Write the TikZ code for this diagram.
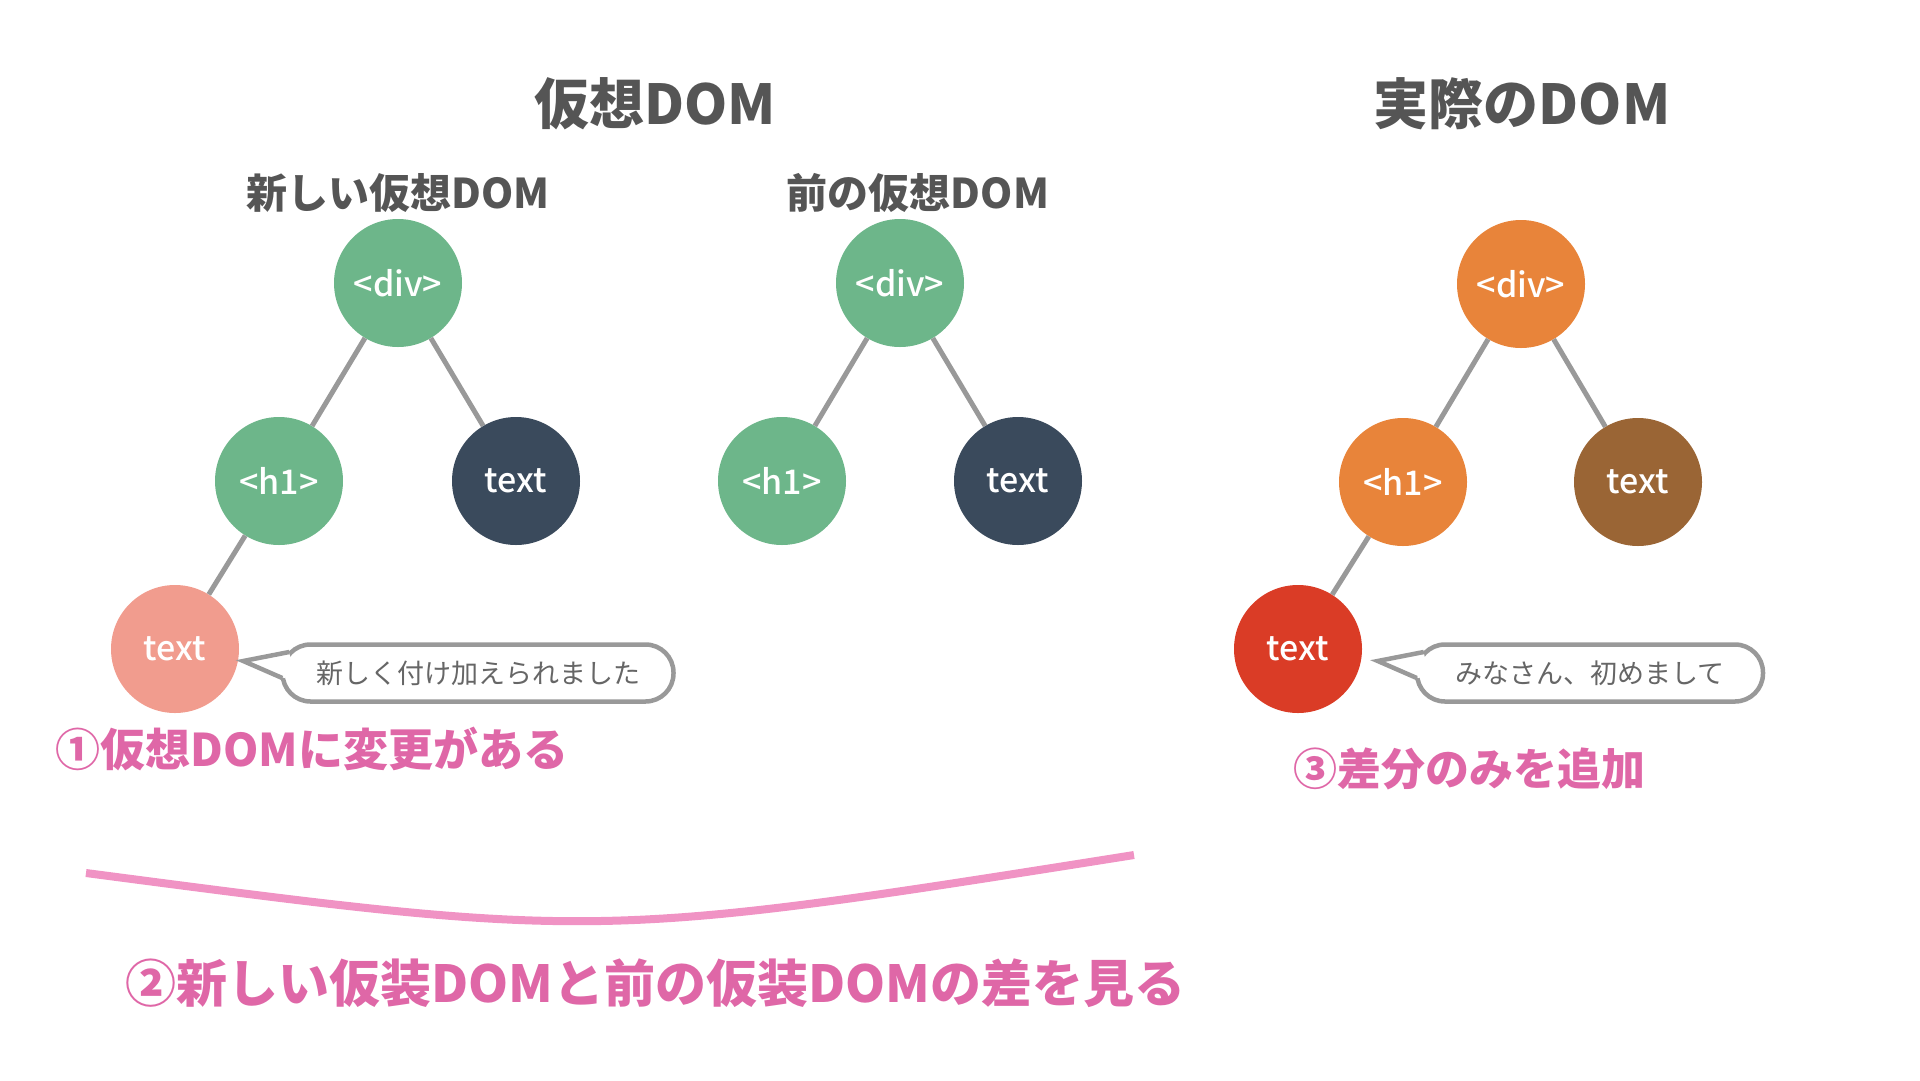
\documentclass[tikz,border=0pt]{standalone}
\usepackage{fontspec}
\setmainfont{Noto Sans CJK JP}
\newfontfamily\jpmedium{Noto Sans CJK JP}[UprightFont=* Medium]
\usetikzlibrary{calc}
\definecolor{vgreen}{HTML}{6DB68A}
\definecolor{vnavy}{HTML}{3A4A5C}
\definecolor{vsalmon}{HTML}{F19C8E}
\definecolor{rorange}{HTML}{E8843A}
\definecolor{rbrown}{HTML}{9A6535}
\definecolor{rred}{HTML}{DA3C26}
\definecolor{lblpink}{HTML}{DF67A7}
\definecolor{arcpink}{HTML}{F093C4}
\definecolor{titlegray}{HTML}{555555}
\definecolor{linegray}{HTML}{999999}

\begin{document}
\begin{tikzpicture}[x=1pt, y=-1pt,
  title/.style={font=\bfseries\fontsize{55}{62}\selectfont, text=titlegray},
  subtitle/.style={font=\bfseries\fontsize{41}{48}\selectfont, text=titlegray},
  vnode/.style={circle, minimum size=128pt, inner sep=0pt, text=white,
    font=\jpmedium\fontsize{34}{40}\selectfont},
  edge/.style={linegray, line width=5pt},
  bubble/.style={draw=linegray, line width=4.5pt, fill=white, rounded corners=28pt,
    minimum height=57pt, inner sep=0pt, text=titlegray!90,
    font=\fontsize{27}{32}\selectfont},
  tailline/.style={linegray, line width=4.5pt, line join=miter},
  steplabel/.style={anchor=west, text=lblpink, font=\bfseries\fontsize{45}{52}\selectfont}]
  \useasboundingbox (0,0) rectangle (1920,1080);

  % titles
  \node[title] (tvirt) at (655,104) {仮想DOM};
  \node[title] (treal) at (1522,104) {実際のDOM};
  \node[subtitle] (tnew) at (398,193) {新しい仮想DOM};
  \node[subtitle] (tprev) at (918,193) {前の仮想DOM};

  % new virtual DOM
  \node[vnode, fill=vgreen] (ndiv) at (398,283) {<div>};
  \node[vnode, fill=vgreen] (nh1) at (279,481) {<h1>};
  \node[vnode, fill=vnavy] (ntext) at (516,481) {text};
  \node[vnode, fill=vsalmon] (nadd) at (175,649) {text};
  \draw[edge] (ndiv) -- (nh1);
  \draw[edge] (ndiv) -- (ntext);
  \draw[edge] (nh1) -- (nadd);

  % previous virtual DOM
  \node[vnode, fill=vgreen] (pdiv) at (900,283) {<div>};
  \node[vnode, fill=vgreen] (ph1) at (782,481) {<h1>};
  \node[vnode, fill=vnavy] (ptext) at (1018,481) {text};
  \draw[edge] (pdiv) -- (ph1);
  \draw[edge] (pdiv) -- (ptext);

  % real DOM
  \node[vnode, fill=rorange] (rdiv) at (1521,284) {<div>};
  \node[vnode, fill=rorange] (rh1) at (1403,482) {<h1>};
  \node[vnode, fill=rbrown] (rtext) at (1638,482) {text};
  \node[vnode, fill=rred] (radd) at (1298,649) {text};
  \draw[edge] (rdiv) -- (rh1);
  \draw[edge] (rdiv) -- (rtext);
  \draw[edge] (rh1) -- (radd);

  % speech bubbles
  \node[bubble, minimum width=391pt] (bnew) at (478,673) {新しく付け加えられました};
  \coordinate (tipnew) at ($(bnew.west)+(-37,-12)$);
  \fill[white] ($(bnew.west)+(9,-20)$) -- (tipnew) -- ($(bnew.west)+(4,5)$) -- ($(bnew.west)+(14,0)$) -- cycle;
  \draw[tailline] ($(bnew.west)+(9,-21)$) -- (tipnew) -- ($(bnew.west)+(2,5)$);

  \node[bubble, minimum width=346pt] (breal) at (1590,673) {みなさん、初めまして};
  \coordinate (tipreal) at ($(breal.west)+(-37,-12)$);
  \fill[white] ($(breal.west)+(9,-20)$) -- (tipreal) -- ($(breal.west)+(4,5)$) -- ($(breal.west)+(14,0)$) -- cycle;
  \draw[tailline] ($(breal.west)+(9,-21)$) -- (tipreal) -- ($(breal.west)+(2,5)$);

  % steps
  \node[steplabel] (step1) at (52,749) {①仮想DOMに変更がある};
  \node[steplabel, font=\bfseries\fontsize{44}{50}\selectfont] (step3) at (1290,769) {③差分のみを追加};
  \coordinate (arcl) at (86,873);
  \coordinate (arcr) at (1134,855);
  \draw[arcpink, line width=8pt] (arcl) .. controls (597,940) .. (arcr);
  \node[steplabel, font=\bfseries\fontsize{51}{58}\selectfont] (step2) at (122,983)
    {②新しい仮装DOMと前の仮装DOMの差を見る};
\end{tikzpicture}
\end{document}
